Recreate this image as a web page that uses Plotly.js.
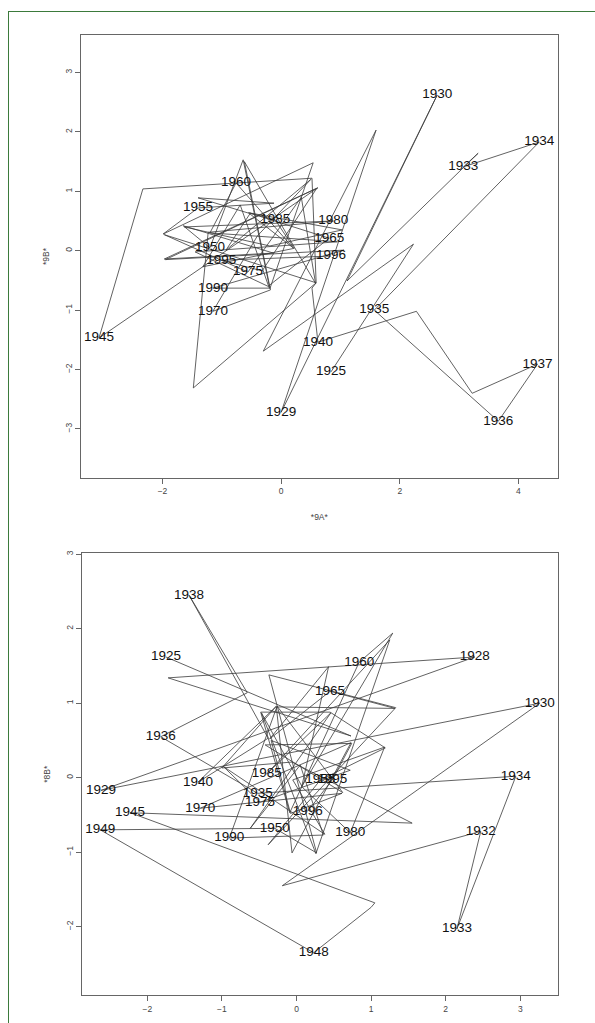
<!DOCTYPE html>
<html><head><meta charset="utf-8">
<script src="https://cdn.plot.ly/plotly-3.0.1.min.js"></script>
<style>
html,body{margin:0;padding:0;background:#fff;}
#frame{position:absolute;left:8px;top:11px;width:640px;height:1100px;border-left:1.5px solid #3b7a3b;border-top:1.5px solid #3b7a3b;pointer-events:none;}
#chart{position:absolute;left:0;top:0;width:595px;height:1023px;}
</style></head>
<body>
<div id="chart"></div>
<div id="frame"></div>
<script>
const years = [];
for (let y = 1925; y <= 1996; y++) years.push(y);

// Panel 1: *9A* vs *9B*
const a9 = [0.84,2.23,-0.30,1.60,0.00,2.63,1.11,3.32,3.07,4.35,
            1.57,3.66,4.32,3.22,2.28,0.62,0.52,0.59,0.52,-2.33,
            -3.07,0.62,-1.97,-0.13,-1.65,-1.20,-0.64,-0.19,0.54,-1.99,
            -1.40,-0.12,-1.40,-0.54,0.20,-0.76,-1.20,0.95,-1.45,-0.22,
            0.81,-0.52,-0.93,0.50,-0.40,-1.15,-0.18,-0.62,0.58,0.34,
            -0.56,-1.97,0.59,-1.48,-1.23,0.88,-1.63,-0.19,1.03,-0.55,
            -0.10,0.22,-1.32,-0.69,-0.20,-1.15,1.06,-1.95,0.60,-0.32,
            -1.01,0.84];
const b9 = [-2.04,0.11,-1.69,2.03,-2.72,2.62,-0.51,1.64,1.41,1.83,
            -1.00,-2.87,-1.91,-2.40,-1.02,-1.54,-0.63,-0.54,1.22,1.04,
            -1.47,1.06,-0.14,-0.04,0.42,0.05,1.53,-0.64,1.48,0.28,
            0.72,0.80,0.89,0.63,0.05,1.14,0.30,0.15,-0.02,-0.60,
            0.21,0.63,0.01,1.20,0.25,-1.02,-0.66,1.50,-0.55,0.90,
            -0.36,0.27,-0.54,-2.31,0.31,0.50,0.40,0.08,0.35,0.64,
            0.52,0.04,-0.27,0.77,-0.63,-0.63,0.01,-0.15,1.05,-0.34,
            -0.16,-0.09];
const labels9 = [1925,1929,1930,1933,1934,1935,1936,1937,1940,1945,1950,1955,1960,1965,1970,1975,1980,1985,1990,1995,1996];

// Panel 2: ? vs *8B*
const a8 = [-1.75,0.73,-1.72,2.39,-2.62,3.26,-0.19,2.47,2.15,2.94,
            -0.52,-1.82,-0.66,-1.44,-0.38,-1.32,-0.27,-1.00,-0.06,1.55,
            -2.23,1.05,1.00,0.23,-2.63,-0.29,0.27,-0.37,1.33,-0.38,
            0.32,1.19,0.45,-0.48,-0.09,0.84,1.29,0.07,0.43,-0.36,
            0.45,1.32,-0.27,-0.06,0.73,-1.29,0.61,-0.08,-0.34,0.72,
            -0.49,-0.98,0.38,-0.05,1.18,0.72,0.08,-0.47,0.26,1.25,
            -0.40,0.46,-0.62,0.05,0.36,-0.90,-0.26,0.62,-0.42,0.74,
            0.48,0.15];
const b8 = [1.62,0.56,1.34,1.62,-0.17,1.00,-1.45,-0.72,-2.03,0.02,
            -0.21,0.55,1.14,2.45,0.53,-0.06,0.96,0.13,0.21,-0.61,
            -0.47,-1.68,-1.74,-2.35,-0.70,-0.68,-1.01,1.38,0.94,-0.90,
            -0.03,0.40,0.88,0.88,-0.47,1.55,1.94,-0.12,1.49,0.52,
            1.16,0.93,0.95,-1.01,0.47,-0.41,-0.21,-0.48,0.50,0.10,
            -0.33,0.15,-0.76,-0.03,0.41,-0.74,-0.13,0.87,-1.02,1.85,
            0.05,0.87,-0.68,0.17,-0.77,-0.81,0.96,-0.20,0.44,0.46,
            -0.03,-0.45];
const labels8 = [1925,1928,1929,1930,1932,1933,1934,1935,1936,1938,1940,1945,1948,1949,1950,1955,1960,1965,1970,1975,1980,1985,1990,1995,1996];

function pick(xs, ys, labs) {
  const px = [], py = [], pt = [];
  labs.forEach(l => { const i = years.indexOf(l); px.push(xs[i]); py.push(ys[i]); pt.push(String(l)); });
  return {px, py, pt};
}
const L9 = pick(a9, b9, labels9);
const L8 = pick(a8, b8, labels8);

const lineStyle = {color: '#3a3a3a', width: 0.8};
const labFont = {family: 'Liberation Sans, Arial, sans-serif', size: 13.5, color: '#111'};

const traces = [
  {x: a9, y: b9, mode: 'lines', line: lineStyle, xaxis: 'x', yaxis: 'y', hoverinfo: 'skip'},
  {x: L9.px, y: L9.py, text: L9.pt, mode: 'text', textposition: 'middle center', textfont: labFont, xaxis: 'x', yaxis: 'y'},
  {x: a8, y: b8, mode: 'lines', line: lineStyle, xaxis: 'x2', yaxis: 'y2', hoverinfo: 'skip'},
  {x: L8.px, y: L8.py, text: L8.pt, mode: 'text', textposition: 'middle center', textfont: labFont, xaxis: 'x2', yaxis: 'y2'}
];

const tickFont = {family: 'Liberation Sans, Arial, sans-serif', size: 8.5, color: '#444'};
const titleFont = {family: 'Liberation Sans, Arial, sans-serif', size: 8.5, color: '#444'};
const common = {showgrid: false, zeroline: false, showline: true, linecolor: '#666', linewidth: 1,
  mirror: true, ticks: 'outside', ticklen: 5, tickcolor: '#666', tickwidth: 1, tickfont: tickFont};

const layout = {
  width: 595, height: 1023,
  margin: {l: 0, r: 0, t: 0, b: 0},
  paper_bgcolor: 'rgba(0,0,0,0)', plot_bgcolor: '#fff',
  showlegend: false,
  xaxis: Object.assign({}, common, {domain: [81/595, 557.7/595], range: [-3.373, 4.661], tickvals: [-2,0,2,4],
    anchor: 'y', title: {text: '*9A*', font: titleFont, standoff: 18}}),
  yaxis: Object.assign({}, common, {domain: [(1023-478)/1023, (1023-35)/1023], range: [-3.826, 3.631], tickvals: [-3,-2,-1,0,1,2,3],
    tickangle: -90, anchor: 'x', title: {text: '*9B*', font: titleFont, standoff: 12}}),
  xaxis2: Object.assign({}, common, {domain: [82.3/595, 557.7/595], range: [-2.871, 3.501], tickvals: [-2,-1,0,1,2,3], anchor: 'y2'}),
  yaxis2: Object.assign({}, common, {domain: [(1023-995.3)/1023, (1023-553.3)/1023], range: [-2.921, 3.012], tickvals: [-2,-1,0,1,2,3],
    tickangle: -90, anchor: 'x2', title: {text: '*8B*', font: titleFont, standoff: 12}})
};

Plotly.newPlot('chart', traces, layout, {staticPlot: true, displayModeBar: false});
</script>
</body></html>
